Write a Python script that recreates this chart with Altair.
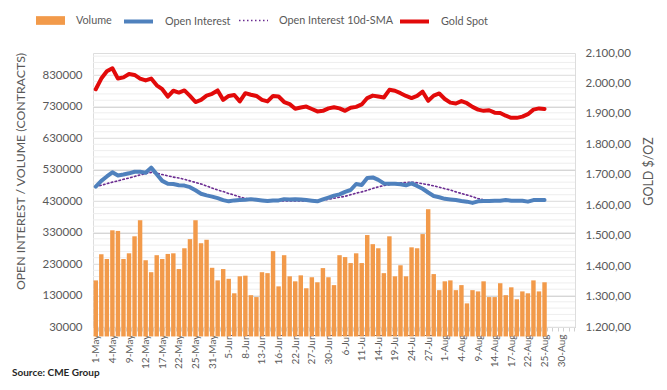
import altair as alt
import pandas as pd

dates = [
    "1-May", "2-May", "3-May", "4-May", "5-May", "8-May", "9-May", "10-May", "11-May", "12-May",
    "15-May", "16-May", "17-May", "18-May", "19-May", "22-May", "23-May", "24-May", "25-May", "26-May",
    "30-May", "31-May",
    "1-Jun", "2-Jun", "5-Jun", "6-Jun", "7-Jun", "8-Jun", "9-Jun", "12-Jun", "13-Jun", "14-Jun",
    "15-Jun", "16-Jun", "20-Jun", "21-Jun", "22-Jun", "23-Jun", "26-Jun", "27-Jun", "28-Jun", "29-Jun",
    "30-Jun",
    "3-Jul", "5-Jul", "6-Jul", "7-Jul", "10-Jul", "11-Jul", "12-Jul", "13-Jul", "14-Jul", "17-Jul",
    "18-Jul", "19-Jul", "20-Jul", "21-Jul", "24-Jul", "25-Jul", "26-Jul", "27-Jul", "28-Jul", "31-Jul",
    "1-Aug", "2-Aug", "3-Aug", "4-Aug", "7-Aug", "8-Aug", "9-Aug", "10-Aug", "11-Aug", "14-Aug",
    "15-Aug", "16-Aug", "17-Aug", "18-Aug", "21-Aug", "22-Aug", "23-Aug", "24-Aug", "25-Aug", "28-Aug",
    "29-Aug", "30-Aug", "31-Aug", "1-Sep",
]

volume = [
    178000, 261000, 246000, 337000, 335000, 246000, 264000, 318000, 369000, 242000,
    204000, 258000, 246000, 262000, 264000, 214000, 280000, 309000, 369000, 296000,
    307000, 218000, 178000, 214000, 183000, 137000, 191000, 193000, 131000, 125000,
    204000, 201000, 271000, 159000, 258000, 191000, 175000, 194000, 153000, 188000,
    172000, 217000, 188000, 163000, 258000, 252000, 233000, 264000, 233000, 322000,
    293000, 280000, 201000, 318000, 191000, 226000, 191000, 283000, 280000, 325000,
    404000, 198000, 147000, 175000, 178000, 147000, 163000, 105000, 147000, 143000,
    175000, 125000, 125000, 169000, 131000, 156000, 118000, 143000, 137000, 178000,
    143000, 172000,
]

open_interest = [
    476000, 494000, 508000, 521000, 511000, 514000, 518000, 523000, 523000, 520000,
    536000, 515000, 494000, 485000, 484000, 480000, 479000, 474000, 464000, 453000,
    448000, 444000, 439000, 433000, 429000, 432000, 433000, 434000, 436000, 434000,
    432000, 430000, 432000, 432000, 436000, 435000, 436000, 435000, 433000, 431000,
    429000, 435000, 441000, 447000, 451000, 459000, 465000, 484000, 481000, 503000,
    505000, 497000, 486000, 485000, 485000, 483000, 480000, 486000, 478000, 469000,
    457000, 446000, 442000, 437000, 435000, 433000, 430000, 428000, 424000, 429000,
    430000, 430000, 431000, 431000, 433000, 431000, 431000, 431000, 428000, 433000,
    433000, 433000,
]

oi_sma = [
    476000, 480000, 485000, 490000, 494000, 499000, 503000, 508000, 513000, 517000,
    521000, 518000, 514000, 510000, 506000, 503000, 499000, 494000, 489000, 484000,
    478000, 471000, 465000, 460000, 454000, 449000, 443000, 438000, 436000, 434000,
    433000, 432000, 431000, 430000, 430000, 430000, 430000, 430000, 430000, 431000,
    432000, 433000, 435000, 439000, 442000, 445000, 450000, 455000, 459000, 464000,
    470000, 475000, 479000, 482000, 486000, 488000, 489000, 490000, 488000, 485000,
    482000, 478000, 474000, 469000, 465000, 459000, 454000, 449000, 444000, 438000,
    434000, 432000, 431000, 431000, 431000, 431000, 431000, 431000, 431000, 431000,
    431000, 431000,
]

gold = [
    1981, 2016, 2040, 2050, 2016, 2020, 2031, 2028, 2016, 2010,
    2016, 1994, 1981, 1957, 1976, 1970, 1977, 1959, 1939, 1946,
    1960, 1966, 1977, 1946, 1959, 1962, 1941, 1968, 1963, 1959,
    1946, 1941, 1959, 1957, 1939, 1932, 1917, 1921, 1924, 1916,
    1908, 1910, 1918, 1922, 1918, 1910, 1920, 1923, 1931, 1952,
    1960, 1957, 1954, 1979, 1976, 1968, 1959, 1952, 1959, 1973,
    1943, 1960, 1967, 1949, 1937, 1934, 1942, 1935, 1923, 1914,
    1910, 1912, 1904, 1903, 1894, 1887, 1887, 1891, 1899, 1914,
    1918, 1916,
]

left_ticks = [30000, 130000, 230000, 330000, 430000, 530000, 630000, 730000, 830000]
right_ticks = [1200, 1300, 1400, 1500, 1600, 1700, 1800, 1900, 2000, 2100]
minor_grid = list(range(30000, 900001, 20000))

series_names = ["Volume", "Open Interest", "Open Interest 10d-SMA", "Gold Spot"]
series_colors = ["#F29A4A", "#4F81BD", "#6B2C91", "#E20A0A"]

FONT = "Lato"
GREY = "#595959"

n = len(volume)
df = pd.DataFrame({
    "date": dates[:n],
    "volume": volume,
    "oi": open_interest,
    "sma": oi_sma,
    "gold": gold,
    "s_vol": [series_names[0]] * n,
    "s_oi": [series_names[1]] * n,
    "s_sma": [series_names[2]] * n,
    "s_gold": [series_names[3]] * n,
})

shown = dates[::3]
label_expr = "indexof([" + ",".join("'%s'" % d for d in shown) + "], datum.value) >= 0 ? datum.value : ''"

x_enc = alt.X(
    "date:N",
    sort=dates,
    scale=alt.Scale(domain=dates, paddingInner=0.2, paddingOuter=0.1),
    axis=alt.Axis(
        title=None, labelAngle=270, labelExpr=label_expr, labelFont=FONT, labelFontSize=10,
        labelColor=GREY, labelPadding=3, ticks=True, tickBand="extent", tickSize=4,
        tickColor="#d0d0d0", domain=True, domainColor="#d0d0d0", grid=False, labelOverlap=False,
    ),
)

y_left_scale = alt.Scale(domain=[30000, 900000], nice=False, zero=False)
left_axis = alt.Axis(
    title="OPEN INTEREST / VOLUME (CONTRACTS)", values=left_ticks, format="d",
    labelFont=FONT, labelFontSize=11.5, labelColor=GREY, labelPadding=11,
    ticks=False, domain=False, grid=True, gridColor="#d6d6d6",
    titleFont=FONT, titleFontSize=12.3, titleFontWeight="normal", titleColor=GREY,
    titleAngle=270, titleX=-73, titleY=118, titleAlign="center", titleBaseline="middle",
)


def make_legend(x, symbol_type, stroke_width=None, dash=None):
    kw = dict(
        title=None, orient="none", legendX=x, legendY=-48, direction="horizontal",
        labelFont=FONT, labelFontSize=10.8, labelColor=GREY, symbolSize=841,
        labelOffset=10, padding=0, symbolType=symbol_type, symbolOpacity=1,
    )
    if stroke_width is not None:
        kw["symbolStrokeWidth"] = stroke_width
    if dash is not None:
        kw["symbolDash"] = dash
    return alt.Legend(**kw)


def color_enc(field, i, legend):
    return alt.Color(
        field + ":N",
        scale=alt.Scale(domain=[series_names[i]], range=[series_colors[i]]),
        legend=legend,
    )


grid = alt.Chart(pd.DataFrame({"g": minor_grid})).mark_rule(color="#eeeeee", strokeWidth=1).encode(
    y=alt.Y("g:Q", scale=y_left_scale, axis=left_axis)
)

bars = alt.Chart(df).mark_bar().encode(
    x=x_enc,
    y=alt.Y("volume:Q", scale=y_left_scale, axis=left_axis),
    color=color_enc("s_vol", 0, make_legend(-58, "M-1,-0.3L1,-0.3L1,0.3L-1,0.3Z")),
)

oi_line = alt.Chart(df).mark_line(strokeWidth=4, strokeJoin="round", strokeCap="round").encode(
    x=x_enc,
    y=alt.Y("oi:Q", scale=y_left_scale, axis=left_axis),
    color=color_enc("s_oi", 1, make_legend(29, "stroke", 4)),
)

sma_line = alt.Chart(df).mark_line(strokeWidth=1.6, strokeDash=[1.5, 2.5], strokeCap="round").encode(
    x=x_enc,
    y=alt.Y("sma:Q", scale=y_left_scale, axis=left_axis),
    color=color_enc("s_sma", 2, make_legend(145, "stroke", 1.5, [1.5, 2.5])),
)

gold_line = alt.Chart(df).mark_line(strokeWidth=4, strokeJoin="round", strokeCap="round").encode(
    x=x_enc,
    y=alt.Y(
        "gold:Q",
        scale=alt.Scale(domain=[1200, 2100], nice=False, zero=False),
        axis=alt.Axis(
            orient="right", title="GOLD $/OZ", values=right_ticks,
            labelExpr="replace(replace(replace(format(datum.value, ',.2f'), ',', '#'), '.', ','), '#', '.')",
            labelFont=FONT, labelFontSize=11.5, labelColor=GREY, labelPadding=10,
            ticks=False, domain=False, grid=False,
            titleFont=FONT, titleFontSize=12.5, titleFontWeight="normal", titleColor=GREY,
            titleAngle=270, titleX=73, titleY=118, titleAlign="center", titleBaseline="middle",
        ),
    ),
    color=color_enc("s_gold", 3, make_legend(305, "stroke", 4)),
)

left = alt.layer(grid, bars, sma_line, oi_line).resolve_scale(color="independent")

chart = alt.layer(left, gold_line).resolve_scale(y="independent", color="independent").properties(
    width=482,
    height=274,
    autosize=alt.AutoSizeParams(type="none"),
    padding={"left": 85, "top": 45, "right": 84, "bottom": 55},
    title=alt.TitleParams(
        "Source: CME Group", orient="bottom", anchor="start", frame="bounds",
        font=FONT, fontSize=10, fontWeight="bold", color="#262626", dx=-2, dy=-7, offset=7,
    ),
).configure_view(stroke=None).configure(font=FONT)

chart.save("out.html", embed_options={"renderer": "svg", "actions": False})
